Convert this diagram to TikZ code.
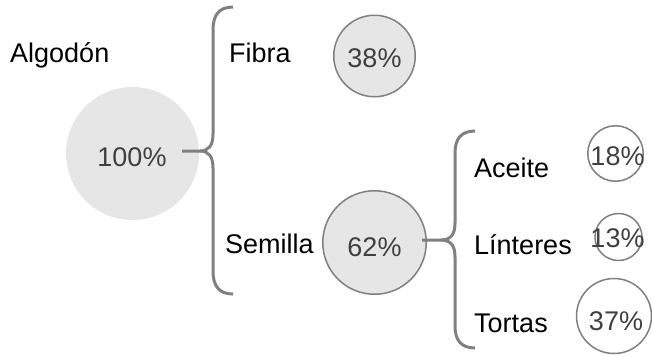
\documentclass[tikz,border=0pt]{standalone}
\usepackage{fontspec}
\setmainfont{Liberation Sans}
\definecolor{pctgray}{HTML}{404040}
\definecolor{circfill}{HTML}{E6E6E6}
\definecolor{circline}{HTML}{7F7F7F}
\definecolor{bracegray}{HTML}{808080}
\begin{document}
\begin{tikzpicture}[x=1bp,y=-1bp,
  txt/.style={font=\fontsize{27bp}{30bp}\selectfont, inner sep=0pt},
  pct/.style={txt, text=pctgray, anchor=base},
  lbl/.style={txt, text=black, anchor=base west},
  fillc/.style={circle, fill=circfill, draw=circline, line width=1.5bp, inner sep=0pt},
  openc/.style={circle, draw=circline, line width=1.5bp, inner sep=0pt},
  bigc/.style={circle, fill=circfill, inner sep=0pt},
  bracepath/.style={draw=bracegray, line width=3bp}
]
\useasboundingbox (0,0) rectangle (652,356);
% circles
\node[bigc, minimum size=133bp] (c100) at (132.5,153.5) {};
\node[fillc, minimum size=81.5bp] (c38) at (374.5,56) {};
\node[fillc, minimum size=103.5bp] (c62) at (374.5,242.5) {};
\node[openc, minimum size=55.5bp] (c18) at (615.5,153.5) {};
\node[openc, minimum size=47bp] (c13) at (618.5,237) {};
\node[openc, minimum size=75bp] (c37) at (614,316) {};
% brace 1
\coordinate (b1s) at (182,151);
\coordinate (b1t) at (200,151);
\coordinate (b1top) at (233,7);
\coordinate (b1bot) at (233,294);
\draw[bracepath] (b1top) .. controls (219,7) and (213,15) .. (213,30)
  -- (213,134) .. controls (213,145) and (209,151) .. (b1t) -- (b1s);
\draw[bracepath] (b1t) .. controls (209,151) and (213,157) .. (213,168)
  -- (213,271) .. controls (213,286) and (219,294) .. (b1bot);
% brace 2
\coordinate (b2s) at (422,240);
\coordinate (b2t) at (441,240);
\coordinate (b2top) at (475,131);
\coordinate (b2bot) at (475,348);
\draw[bracepath] (b2top) .. controls (461,131) and (455,139) .. (455,153)
  -- (455,223) .. controls (455,234) and (451,240) .. (b2t) -- (b2s);
\draw[bracepath] (b2t) .. controls (451,240) and (455,246) .. (455,257)
  -- (455,326) .. controls (455,340) and (461,348) .. (b2bot);
% labels
\node[lbl] (lalg) at (10,62) {Algodón};
\node[lbl] (lfib) at (229,62) {Fibra};
\node[lbl] (lsem) at (225,253) {Semilla};
\node[lbl] (lace) at (474,177) {Aceite};
\node[lbl] (llin) at (474,254) {Línteres};
\node[lbl] (ltor) at (474,332) {Tortas};
% percentages
\node[pct] (p100) at (132,166) {100\%};
\node[pct] (p38) at (374.5,67) {38\%};
\node[pct] (p62) at (374.5,256) {62\%};
\node[pct] (p18) at (617.5,165) {18\%};
\node[pct] (p13) at (617.5,247) {13\%};
\node[pct] (p37) at (616,330) {37\%};
\end{tikzpicture}
\end{document}
